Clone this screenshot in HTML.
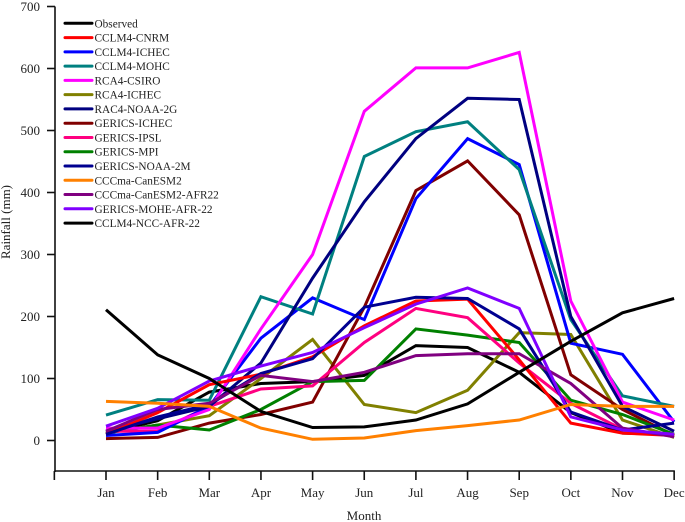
<!DOCTYPE html>
<html>
<head>
<meta charset="utf-8">
<style>
html,body{margin:0;padding:0;background:#fff;}
svg{display:block;filter:blur(0.35px);}
text{font-family:"Liberation Serif",serif;fill:#222;}
</style>
</head>
<body>
<svg id="chart" width="685" height="522" viewBox="0 0 685 522" xmlns="http://www.w3.org/2000/svg"></svg>
<script>
const months = ["Jan","Feb","Mar","Apr","May","Jun","Jul","Aug","Sep","Oct","Nov","Dec"];
const yTicks = [0,100,200,300,400,500,600,700];
const seriesNames = ["Observed","CCLM4-CNRM","CCLM4-ICHEC","CCLM4-MOHC","RCA4-CSIRO","RCA4-ICHEC","RAC4-NOAA-2G","GERICS-ICHEC","GERICS-IPSL","GERICS-MPI","GERICS-NOAA-2M","CCCma-CanESM2","CCCma-CanESM2-AFR22","GERICS-MOHE-AFR-22","CCLM4-NCC-AFR-22"];
const seriesColors = ["#000000","#ff0000","#0000ff","#008080","#ff00ff","#808000","#000080","#800000","#ff0080","#008000","#000090","#ff8000","#800080","#8000ff","#000000"];
const observed = [211,138,100,47,21,22,33,59,110,160,206,229];
const cclm4Cnrm = [10,45,90,107,135,185,225,228,130,28,12,8];
const cclm4Ichec = [8,13,55,165,230,195,390,487,445,157,139,30];
const cclm4Mohc = [41,66,65,232,204,458,498,514,437,195,72,55];
const rca4Csiro = [20,20,50,180,300,531,601,601,626,225,62,33];
const rca4Ichec = [12,25,40,100,163,58,45,81,174,171,33,5];
const rac4Noaa2g = [15,35,55,125,262,385,487,552,550,200,55,15];
const gericsIchec = [3,5,28,42,62,215,403,451,364,106,50,8];
const gericsIpsl = [15,15,55,83,88,158,213,198,125,60,18,8];
const gericsMpi = [12,25,17,50,95,97,180,170,158,65,42,10];
const gericsNoaa2m = [10,38,58,108,132,215,231,229,180,46,17,28];
const canEsm2 = [63,60,55,20,2,4,16,24,33,58,55,55];
const canEsm2Afr22 = [15,50,60,105,95,110,137,140,140,92,20,6];
const moheAfr22 = [23,52,96,120,142,182,220,246,213,38,17,10];
const nccAfr22 = [12,32,78,92,95,105,153,150,110,45,12,10];
const seriesValues = [observed,cclm4Cnrm,cclm4Ichec,cclm4Mohc,rca4Csiro,rca4Ichec,rac4Noaa2g,gericsIchec,gericsIpsl,gericsMpi,gericsNoaa2m,canEsm2,canEsm2Afr22,moheAfr22,nccAfr22];
const drawOrder = [14,5,7,9,8,2,3,4,6,1,10,12,13,11,0];

const svg = document.getElementById('chart');
const NS = 'http://www.w3.org/2000/svg';
function xScale(i){ return 106 + i * 51.65; }
function yScale(v){ return 440.5 - v * 0.62; }
function make(tag, attrs, text){
  const el = document.createElementNS(NS, tag);
  for (const k in attrs) el.setAttribute(k, attrs[k]);
  if (text !== undefined) el.textContent = text;
  svg.appendChild(el);
  return el;
}
function slug(s){ return s.toLowerCase().replace(/[^a-z0-9]+/g,'-'); }

// axes
const yAxis = make('line',{x1:55,y1:6.5,x2:55,y2:472,stroke:'#111','stroke-width':1.6});


const xAxis = make('line',{x1:54.3,y1:471,x2:xScale(11)+0.7,y2:471,stroke:'#111','stroke-width':1.6});



yTicks.forEach(function(v){
  const t = make('line',{x1:47,y1:yScale(v),x2:55,y2:yScale(v),stroke:'#111','stroke-width':1.6});
  
  
  const l = make('text',{x:40,y:yScale(v)+4.5,'text-anchor':'end','font-size':13},String(v));
  
  
});

for (let i = -1; i < months.length; i++){
  const t = make('line',{x1:xScale(i),y1:471,x2:xScale(i),y2:480,stroke:'#111','stroke-width':1.6});
  
  
  if (i >= 0){
    const l = make('text',{x:xScale(i),y:497,'text-anchor':'middle','font-size':13},months[i]);
    
    
  }
}

const yTitle = make('text',{transform:'translate(10,222) rotate(-90)','text-anchor':'middle','font-size':13},'Rainfall (mm)');


const xTitle = make('text',{x:364,y:520,'text-anchor':'middle','font-size':13},'Month');



// series
drawOrder.forEach(function(idx){
  const pts = seriesValues[idx].map(function(v,i){ return xScale(i).toFixed(1)+','+yScale(v).toFixed(1); }).join(' ');
  const line = make('polyline',{points:pts,fill:'none',stroke:seriesColors[idx],'stroke-width':3,'stroke-linejoin':'miter'});
  
  
});

// legend
seriesNames.forEach(function(name,i){
  const y = 23.3 + i * 14.27;
  const sw = make('line',{x1:65,y1:y,x2:92,y2:y,stroke:seriesColors[i],'stroke-width':3,'stroke-linecap':'round'});
  
  
  const tx = make('text',{x:94.5,y:y+4,'font-size':11.3},name);
  
  
});
</script>
</body>
</html>
